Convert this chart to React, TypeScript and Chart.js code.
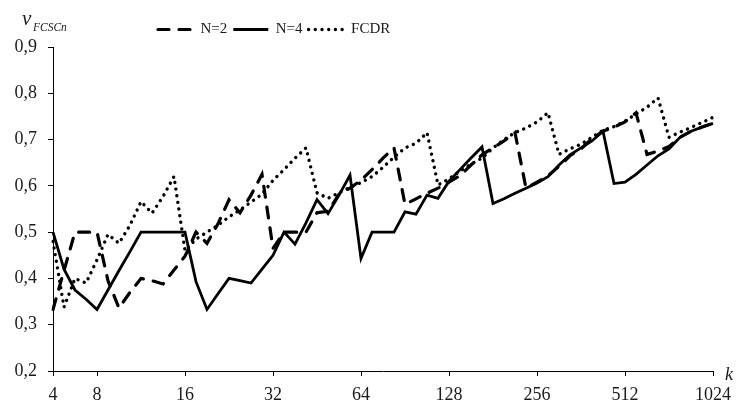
import React, { useEffect, useRef } from 'react';
import { Chart, registerables } from 'chart.js';

Chart.register(...registerables);

// k values (category axis)
const categories = [
  4, 5, 6, 7, 8,
  9, 10, 11, 12, 13, 14, 15, 16,
  18, 20, 22, 24, 26, 28, 30, 32,
  36, 40, 44, 48, 52, 56, 60, 64,
  72, 80, 88, 96, 104, 112, 120, 128,
  144, 160, 176, 192, 208, 224, 240, 256,
  288, 320, 352, 384, 416, 448, 480, 512,
  576, 640, 704, 768, 832, 896, 960, 1024,
];

const xTickLabels = [4, 8, 16, 32, 64, 128, 256, 512, 1024];
const yTicks = [0.2, 0.3, 0.4, 0.5, 0.6, 0.7, 0.8, 0.9];

const seriesN2 = [
  0.333, 0.417, 0.5, 0.5, 0.5,
  0.395, 0.336, 0.37, 0.4, 0.395, 0.388, 0.418, 0.448,
  0.5, 0.476, 0.518, 0.57, 0.542, 0.58, 0.625, 0.465,
  0.5, 0.5, 0.5, 0.542, 0.545, 0.582, 0.595, 0.612,
  0.635, 0.66, 0.682, 0.56, 0.572, 0.584, 0.595, 0.608,
  0.622, 0.645, 0.667, 0.682, 0.697, 0.715, 0.595, 0.608,
  0.622, 0.642, 0.665, 0.68, 0.702, 0.718, 0.727, 0.738,
  0.758, 0.668, 0.675, 0.685, 0.705, 0.718, 0.727, 0.735,
];

const seriesN4 = [
  0.5, 0.42, 0.375, 0.355, 0.333,
  0.375, 0.417, 0.458, 0.5, 0.5, 0.5, 0.5, 0.5,
  0.393, 0.333, 0.367, 0.4, 0.395, 0.39, 0.42, 0.45,
  0.5, 0.474, 0.52, 0.57, 0.54, 0.58, 0.623, 0.443,
  0.5, 0.5, 0.5, 0.544, 0.539, 0.58, 0.573, 0.61,
  0.635, 0.66, 0.684, 0.562, 0.572, 0.584, 0.595, 0.606,
  0.62, 0.645, 0.667, 0.682, 0.697, 0.718, 0.605, 0.608,
  0.625, 0.645, 0.665, 0.68, 0.705, 0.718, 0.727, 0.735,
];

const seriesFCDR = [
  0.48, 0.338, 0.4, 0.39, 0.44,
  0.495, 0.476, 0.515, 0.566, 0.541, 0.577, 0.62, 0.46,
  0.485, 0.5, 0.515, 0.533, 0.548, 0.565, 0.582, 0.612,
  0.635, 0.66, 0.682, 0.585, 0.573, 0.585, 0.597, 0.607,
  0.62, 0.64, 0.662, 0.682, 0.692, 0.715, 0.602, 0.615,
  0.632, 0.647, 0.66, 0.682, 0.7, 0.715, 0.725, 0.738,
  0.758, 0.668, 0.68, 0.69, 0.705, 0.72, 0.728, 0.74,
  0.755, 0.77, 0.79, 0.705, 0.716, 0.726, 0.737, 0.748,
];

const seriesLabels = ['N=2', 'N=4', 'FCDR'];

const FONT = "'Liberation Serif', 'Times New Roman', serif";
const TEXT = '#1a1a1a';

const annotations = {
  id: 'annotations',
  afterLayout(chart: any) {
    const lg = chart.legend;
    if (lg) {
      const pad = lg.options.labels.padding;
      lg.left = 158 - pad;
      lg.right = chart.width;
    }
  },
  afterDraw(chart: any) {
    const { ctx, chartArea } = chart;
    ctx.save();
    ctx.fillStyle = TEXT;
    ctx.textAlign = 'left';
    ctx.textBaseline = 'alphabetic';
    ctx.font = `italic 21px ${FONT}`;
    ctx.fillText('v', chartArea.left - 31, chartArea.top - 22);
    ctx.font = `italic 11.5px ${FONT}`;
    ctx.fillText('FCSCn', chartArea.left - 20, chartArea.top - 16);
    ctx.font = `italic 18px ${FONT}`;
    ctx.fillText('k', chartArea.right + 12, chartArea.bottom + 9);
    ctx.restore();
  },
};

export default function App() {
  const canvasRef = useRef<HTMLCanvasElement | null>(null);

  useEffect(() => {
    document.body.style.margin = '0';
    const canvas = canvasRef.current;
    if (!canvas) return;

    const chart = new Chart(canvas, {
      type: 'line',
      data: {
        labels: categories.map(String),
        datasets: [
          {
            label: seriesLabels[0],
            data: seriesN2,
            borderColor: '#000',
            borderWidth: 3.2,
            borderDash: [11, 10],
            borderCapStyle: 'round',
            pointRadius: 0,
            fill: false,
          },
          {
            label: seriesLabels[1],
            data: seriesN4,
            borderColor: '#000',
            borderWidth: 2.8,
            borderDash: [],
            borderCapStyle: 'butt',
            pointRadius: 0,
            fill: false,
          },
          {
            label: seriesLabels[2],
            data: seriesFCDR,
            borderColor: '#000',
            borderWidth: 3.4,
            borderDash: [0.01, 6.7],
            borderCapStyle: 'round',
            pointRadius: 0,
            fill: false,
          },
        ],
      },
      options: {
        animation: false,
        responsive: false,
        devicePixelRatio: 1,
        layout: { padding: { left: 0, right: 23, top: 16, bottom: 0 } },
        elements: { line: { tension: 0 }, point: { radius: 0 } },
        plugins: {
          tooltip: { enabled: false },
          legend: {
            display: true,
            position: 'top',
            align: 'start',
            labels: {
              usePointStyle: true,
              pointStyleWidth: 35,
              padding: 6,
              color: TEXT,
              font: { family: FONT, size: 15 },
              generateLabels: (ch: any) =>
                ch.data.datasets.map((ds: any, i: number) => ({
                  text: ds.label,
                  fillStyle: 'rgba(0,0,0,0)',
                  strokeStyle: '#000',
                  lineWidth: ds.borderWidth,
                  lineDash: ds.borderDash || [],
                  lineCap: ds.borderCapStyle,
                  pointStyle: 'line',
                  hidden: false,
                  datasetIndex: i,
                  fontColor: TEXT,
                })),
            },
          },
        },
        scales: {
          x: {
            type: 'category',
            offset: false,
            border: { display: true, color: '#000', width: 1 },
            grid: {
              display: true,
              drawOnChartArea: false,
              drawTicks: true,
              tickLength: 5,
              lineWidth: 1,
              color: (c: any) =>
                xTickLabels.includes(categories[c.index]) ? '#000' : 'rgba(0,0,0,0)',
            },
            ticks: {
              autoSkip: false,
              maxRotation: 0,
              minRotation: 0,
              padding: 8,
              color: TEXT,
              font: { family: FONT, size: 18 },
              callback: (_v: any, index: number) =>
                xTickLabels.includes(categories[index]) ? String(categories[index]) : '',
            },
            afterFit: (s: any) => {
              s.height = 30;
            },
          },
          y: {
            type: 'linear',
            min: 0.2,
            max: 0.9,
            border: { display: true, color: '#000', width: 1 },
            grid: {
              display: true,
              drawOnChartArea: false,
              drawTicks: true,
              tickLength: 5,
              lineWidth: 1,
              color: '#000',
            },
            afterBuildTicks: (s: any) => {
              s.ticks = yTicks.map((v) => ({ value: v }));
            },
            ticks: {
              padding: 11,
              color: TEXT,
              font: { family: FONT, size: 18 },
              callback: (v: any) => Number(v).toFixed(1).replace('.', ','),
            },
            afterFit: (s: any) => {
              s.width = 53;
            },
          },
        },
      },
      plugins: [annotations],
    } as any);

    return () => {
      chart.destroy();
    };
  }, []);

  return (
    <div style={{ width: 739, height: 401 }}>
      <canvas ref={canvasRef} width={739} height={401} style={{ display: 'block' }} />
    </div>
  );
}
